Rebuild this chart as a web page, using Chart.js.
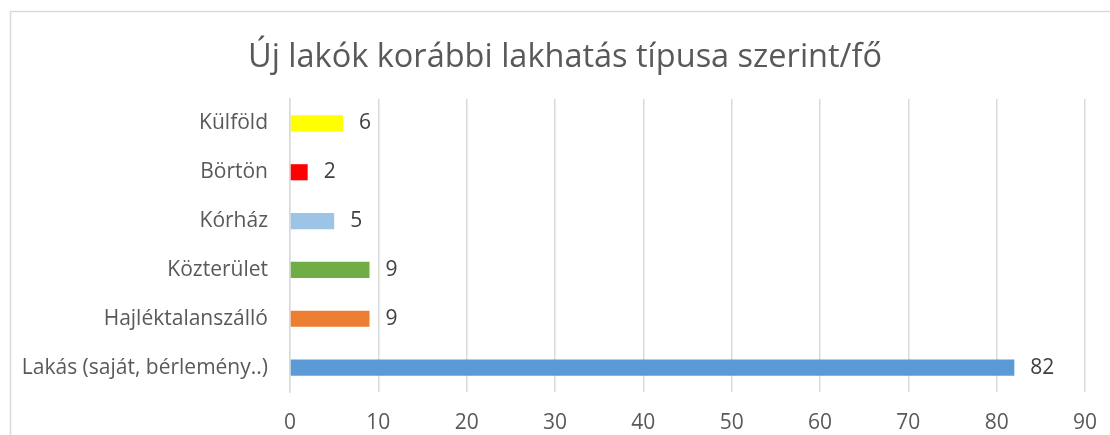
<!DOCTYPE html>
<html>
<head>
<meta charset="utf-8">
<script src="https://cdn.jsdelivr.net/npm/chart.js@4"></script>
<style>
  html, body { margin: 0; padding: 0; background: #fff; }
  #wrap { width: 1110px; height: 435px; position: relative; }
</style>
</head>
<body>
<div id="wrap"><canvas id="chart" width="1110" height="435"></canvas></div>
<script>
// Data
const categories = ['Külföld', 'Börtön', 'Kórház', 'Közterület', 'Hajléktalanszálló', 'Lakás (saját, bérlemény..)'];
const values = [6, 2, 5, 9, 9, 82];
const barColors = ['#FFFF00', '#FF0000', '#9DC3E6', '#70AD47', '#ED7D31', '#5B9BD5'];
const xTicks = [0, 10, 20, 30, 40, 50, 60, 70, 80, 90];
const title = 'Új lakók korábbi lakhatás típusa szerint/fő';

const FONT = '"Open Sans", "Noto Sans", sans-serif';

// frame of the chart area + title (Excel centres it on the whole chart area)
const framePlugin = {
    id: 'frame',
    beforeDraw(chart) {
        const ctx = chart.ctx;
        ctx.save();
        ctx.fillStyle = '#fff';
        ctx.fillRect(0, 0, chart.width, chart.height);
        ctx.strokeStyle = '#d9d9d9';
        ctx.lineWidth = 1.5;
        ctx.beginPath();
        ctx.moveTo(10.5, chart.height);
        ctx.lineTo(10.5, 11.5);
        ctx.lineTo(chart.width, 11.5);
        ctx.stroke();

        ctx.fillStyle = '#595959';
        ctx.font = '32.5px ' + FONT;
        ctx.textAlign = 'center';
        ctx.textBaseline = 'alphabetic';
        ctx.fillText(title, 565, 67);
        ctx.restore();
    }
};

// value labels at the end of each bar
const valueLabels = {
    id: 'valueLabels',
    afterDatasetsDraw(chart) {
        const ctx = chart.ctx;
        const meta = chart.getDatasetMeta(0);
        ctx.save();
        ctx.fillStyle = '#404040';
        ctx.font = '21px ' + FONT;
        ctx.textAlign = 'left';
        ctx.textBaseline = 'middle';
        meta.data.forEach((bar, i) => {
            ctx.fillText(String(values[i]), bar.x + 16, bar.y);
        });
        ctx.restore();
    }
};

new Chart(document.getElementById('chart'), {
    type: 'bar',
    data: {
        labels: categories,
        datasets: [{
            data: values,
            backgroundColor: barColors,
            borderWidth: 0,
            barPercentage: 0.33,
            categoryPercentage: 1.0
        }]
    },
    options: {
        indexAxis: 'y',
        responsive: false,
        animation: false,
        layout: {
            padding: { top: 99, left: 10, right: 25, bottom: 0 }
        },
        plugins: {
            legend: { display: false },
            tooltip: { enabled: false },
            title: { display: false }
        },
        scales: {
            x: {
                min: 0,
                max: 90,
                afterBuildTicks(scale) {
                    scale.ticks = xTicks.map(v => ({ value: v }));
                },
                afterFit(scale) {
                    scale.height = 43;
                    scale.paddingRight = 0;
                },
                grid: { color: '#d9d9d9', lineWidth: 1.5, drawTicks: false },
                border: { display: false },
                ticks: {
                    color: '#595959',
                    font: { family: FONT, size: 21 },
                    padding: 18,
                    maxRotation: 0
                }
            },
            y: {
                afterFit(scale) { scale.width = 280; },
                grid: { display: false },
                border: { display: true, color: '#d9d9d9', width: 1.5 },
                ticks: {
                    color: '#595959',
                    font: { family: FONT, size: 21 },
                    padding: 14
                }
            }
        }
    },
    plugins: [framePlugin, valueLabels]
});
</script>
</body>
</html>
